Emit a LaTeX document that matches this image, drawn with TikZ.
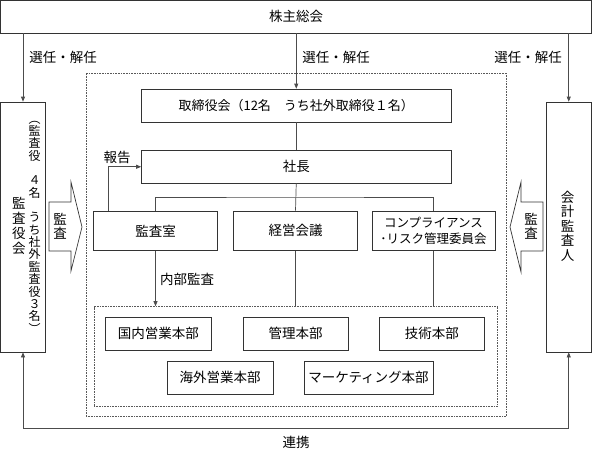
\documentclass[tikz,border=0pt]{standalone}
\usepackage{fontspec}
\setmainfont{Noto Sans CJK JP}
\usetikzlibrary{arrows.meta}
\newcommand{\jpf}{\fontsize{13.5}{16}\selectfont}
\lineskiplimit=-30pt
\begin{document}
\begin{tikzpicture}[x=1pt,y=-1pt,
  box/.style={draw=black!80, line width=0.7pt, inner sep=0pt, anchor=center, font=\jpf},
  conn/.style={draw=black!70, line width=0.7pt},
  arr/.style={conn, -{Triangle[length=5pt,width=4pt]}},
  dotbox/.style={draw=black!65, line width=0.6pt, dash pattern=on 0.8pt off 0.8pt, inner sep=0pt, anchor=center},
  lbl/.style={inner sep=0pt, font=\jpf},
  vlbl/.style={inner sep=0pt, align=center},
  bigarrow/.style={draw=black!80, line width=0.7pt, fill=white}
]
\useasboundingbox (0,0) rectangle (592,450);

% dotted frames
\node[dotbox, minimum width=420.5pt, minimum height=343.5pt] (outer) at (296.25,244.75) {};
\node[dotbox, minimum width=403pt, minimum height=100pt] (inner) at (295.5,356.5) {};

% boxes
\node[box, minimum width=591pt, minimum height=32.5pt] (top) at (296,16.75) {株主総会};
\node[box, minimum width=45pt, minimum height=250pt] (kansayaku) at (23,227) {};
\node[box, minimum width=45.5pt, minimum height=250pt] (kaikei) at (568.75,227) {};
\node[box, minimum width=309.5pt, minimum height=33pt, font=\fontsize{13}{15}\selectfont] (tori) at (296.25,105.5) {取締役会（12名　うち社外取締役１名）};
\node[box, minimum width=309.5pt, minimum height=32.5pt] (shacho) at (296.25,166.75) {社長};
\node[box, minimum width=124pt, minimum height=39.5pt] (kansashitsu) at (155.5,230.75) {監査室};
\node[box, minimum width=124pt, minimum height=39.5pt] (keiei) at (295.5,230.75) {経営会議};
\node[box, minimum width=123pt, minimum height=39.5pt, align=center, font=\fontsize{12.5}{16}\selectfont] (comp) at (433.5,230.75) {コンプライアンス\\･リスク管理委員会};
\node[box, minimum width=105.5pt, minimum height=33pt] (kokunai) at (158.25,333.5) {国内営業本部};
\node[box, minimum width=105pt, minimum height=33pt] (kanri) at (295.5,333.5) {管理本部};
\node[box, minimum width=105.5pt, minimum height=33pt] (gijutsu) at (431.75,333.5) {技術本部};
\node[box, minimum width=106pt, minimum height=33pt] (kaigai) at (220,377.5) {海外営業本部};
\node[box, minimum width=129pt, minimum height=33pt] (mkt) at (368.5,377.5) {マーケティング本部};

% vertical texts in side boxes
\node[vlbl, font=\fontsize{13.5}{15}\selectfont] (kyakai) at (19,226) {監\\査\\役\\会};
\node[vlbl, font=\fontsize{12}{12.35}\selectfont] (kyadetail) at (34.5,227) {︵\\監\\査\\役\\　\\４\\名\\　\\う\\ち\\社\\外\\監\\査\\役\\３\\名\\︶};
\node[vlbl, font=\fontsize{13.5}{14.5}\selectfont] (kaikeitxt) at (567.5,226) {会\\計\\監\\査\\人};

% big audit arrows
\draw[bigarrow] (49,202) -- (71,202) -- (71,182) -- (82,227) -- (71,271) -- (71,251) -- (49,251) -- cycle;
\node[vlbl, font=\fontsize{13.5}{14}\selectfont] (kansaL) at (60,226) {監\\査};
\draw[bigarrow] (543,202) -- (521,202) -- (521,182) -- (510,227) -- (521,272) -- (521,251) -- (543,251) -- cycle;
\node[vlbl, font=\fontsize{13.5}{14}\selectfont] (kansaR) at (531,226) {監\\査};

% selection arrows
\draw[arr] (kansayaku.north |- top.south) -- (kansayaku.north);
\draw[arr] (tori.north |- top.south) -- (tori.north);
\draw[arr] (kaikei.north |- top.south) -- (kaikei.north);
\node[lbl] (sel1) at (63,57) {選任・解任};
\node[lbl] (sel2) at (336,57) {選任・解任};
\node[lbl] (sel3) at (528,57) {選任・解任};

% org lines
\draw[conn] (tori.south) -- (shacho.north);
\draw[conn] (shacho.south) -- (keiei.north);
\coordinate (bus) at (296,197);
\draw[conn] (kansashitsu.north) |- (bus) -| (comp.north);
\draw[arr] ([xshift=-47.5pt]kansashitsu.north) |- (shacho.west);
\node[lbl] (hokoku) at (117,157) {報告};
\draw[arr] (kansashitsu.south) -- (kansashitsu.south |- inner.north);
\node[lbl] (naibu) at (187,279) {内部監査};
\draw[conn] (keiei.south) -- (keiei.south |- inner.north);
\draw[conn] (comp.south) -- (comp.south |- inner.north);

% cooperation
\draw[conn, {Triangle[length=5pt,width=4pt]}-{Triangle[length=5pt,width=4pt]}] (kansayaku.south) -- ++(0,76) -| (kaikei.south);
\node[lbl] (renkei) at (296,442) {連携};
\end{tikzpicture}
\end{document}
